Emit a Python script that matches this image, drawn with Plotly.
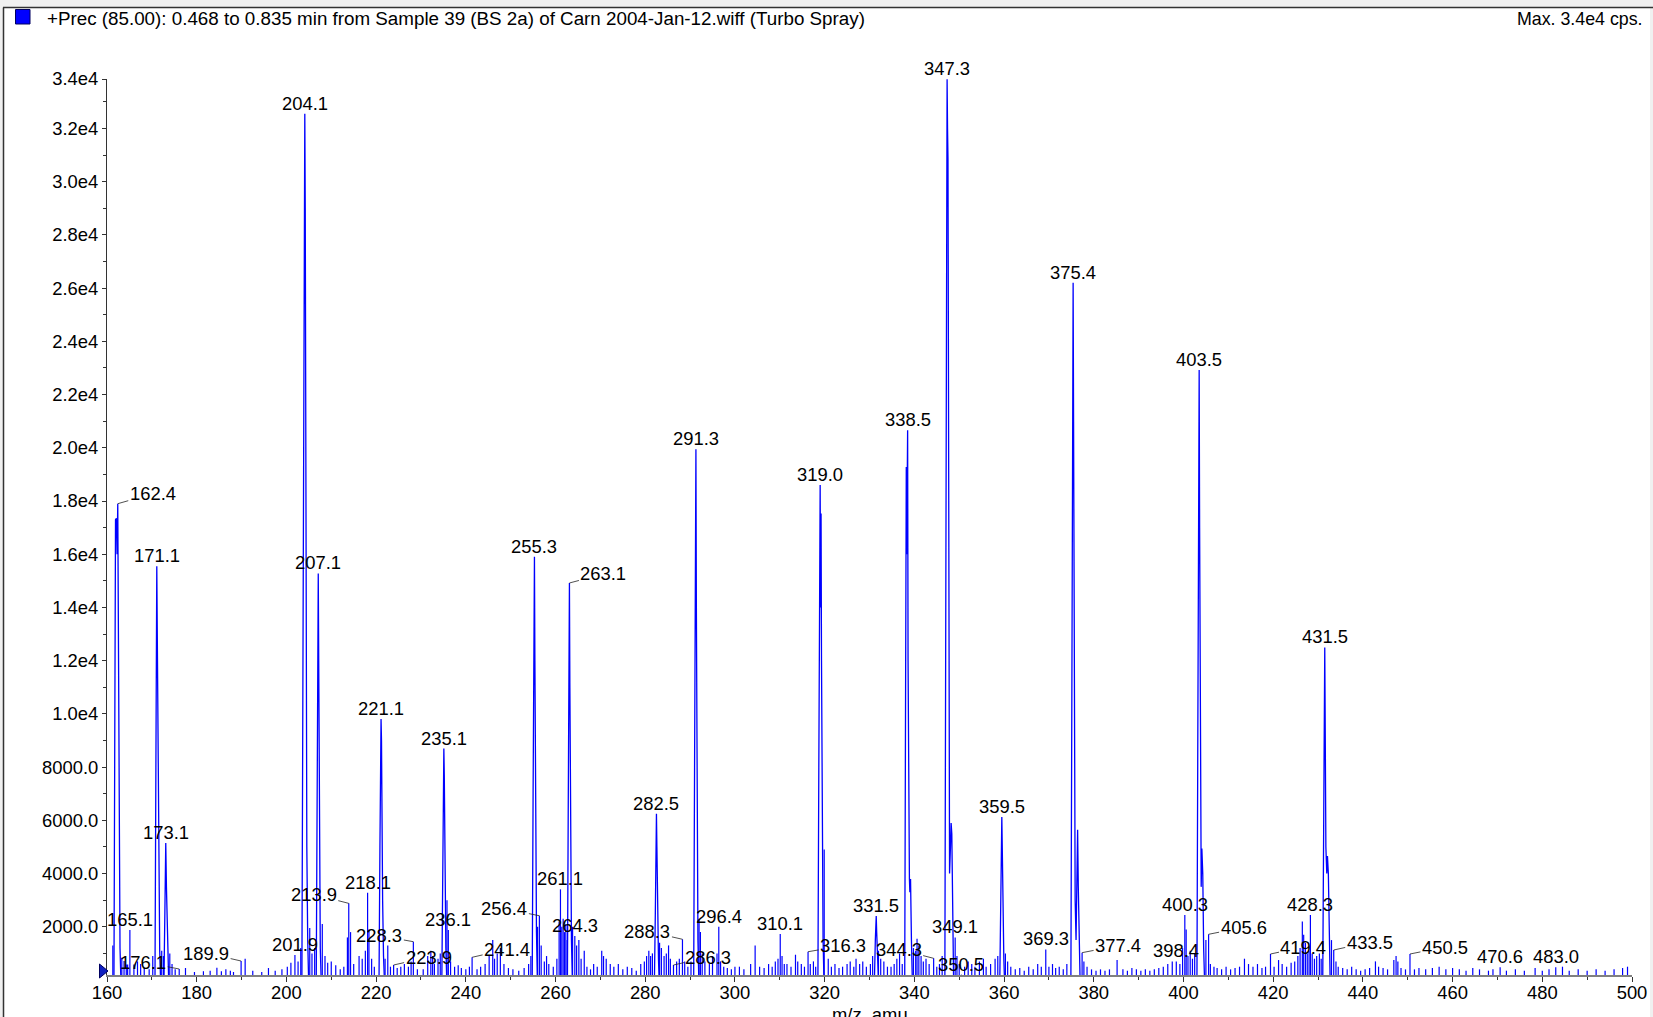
import plotly.graph_objects as go

# ---------------- data ----------------
# profile of the main peaks: m/z and intensity (cps)
profile_mz = [
    161.55, 161.75, 161.9, 162.1, 162.25, 162.4, 162.55, 162.7, 162.9, 163.1,
    170.7, 170.9, 171.0, 171.1, 171.25, 171.4, 171.55, 171.75, 171.95,
    172.7, 172.9, 173.0, 173.1, 173.25, 173.4, 173.55, 173.75,
    203.45, 203.65, 203.85, 204.0, 204.1, 204.2, 204.35, 204.55, 204.75, 204.95,
    206.65, 206.85, 207.0, 207.1, 207.2, 207.35, 207.55, 207.75,
    220.65, 220.85, 221.0, 221.1, 221.2, 221.3, 221.45, 221.65, 221.85,
    234.65, 234.85, 235.0, 235.1, 235.2, 235.35, 235.55, 235.75,
    254.8, 255.0, 255.15, 255.3, 255.4, 255.55, 255.75, 255.95,
    262.65, 262.85, 263.0, 263.1, 263.2, 263.35, 263.55, 263.75,
    282.05, 282.25, 282.4, 282.5, 282.6, 282.75, 282.95, 283.1,
    290.8, 291.0, 291.2, 291.3, 291.4, 291.55, 291.75, 291.95,
    318.5, 318.7, 318.9, 319.0, 319.1, 319.2, 319.3, 319.45, 319.65, 319.85,
    331.1, 331.3, 331.4, 331.5, 331.6, 331.8, 332.0,
    337.85, 338.05, 338.2, 338.3, 338.4, 338.5, 338.6, 338.75, 338.9, 339.0, 339.15, 339.35, 339.55,
    346.8, 347.0, 347.2, 347.3, 347.4, 347.5, 347.65, 347.85, 348.05, 348.2, 348.35, 348.55, 348.75,
    359.05, 359.25, 359.4, 359.5, 359.6, 359.75, 359.95, 360.1,
    374.9, 375.1, 375.3, 375.4, 375.5, 375.65, 375.85, 376.05, 376.25, 376.4, 376.55, 376.75, 376.95,
    403.0, 403.2, 403.4, 403.5, 403.6, 403.75, 403.95, 404.1, 404.3, 404.5, 404.7,
    431.05, 431.25, 431.4, 431.5, 431.6, 431.75, 431.95, 432.1, 432.3, 432.5, 432.7,
]
profile_int = [
    0, 9000, 17300, 17350, 16000, 17900, 12000, 4000, 1200, 0,
    0, 8000, 13500, 15550, 12100, 9000, 4000, 1100, 0,
    0, 2500, 4000, 5150, 3500, 2100, 800, 0,
    0, 10000, 27000, 30000, 32550, 29000, 18000, 5000, 1500, 0,
    0, 8000, 13000, 15280, 12000, 5000, 1200, 0,
    0, 5000, 8500, 9810, 9000, 6000, 3000, 900, 0,
    0, 4500, 7600, 8700, 7700, 4000, 1200, 0,
    0, 7000, 13060, 15910, 12000, 6000, 1800, 0,
    0, 7000, 12500, 14920, 11000, 5000, 1500, 0,
    0, 2500, 5000, 6250, 5000, 2500, 800, 0,
    0, 8000, 16000, 19950, 14000, 5000, 1500, 0,
    0, 8000, 16000, 18600, 14000, 17530, 12000, 5000, 1500, 0,
    0, 1500, 2200, 2400, 1800, 700, 0,
    0, 10000, 19280, 16000, 18500, 20660, 12000, 4500, 3800, 3300, 3800, 1500, 0,
    0, 12000, 28000, 33850, 32000, 30880, 12000, 4000, 5000, 5900, 5500, 1800, 0,
    0, 2500, 5000, 6130, 5000, 2500, 800, 0,
    0, 10000, 23000, 26200, 21000, 10000, 3000, 1500, 4500, 5650, 3500, 1000, 0,
    0, 8000, 19000, 22920, 17000, 7000, 3500, 4940, 4000, 1200, 0,
    0, 5000, 10500, 12500, 9500, 5000, 4000, 4660, 4000, 1500, 0,
]

# small (noise / minor) sticks: m/z and intensity (cps)
stick_mz = [
    161.3, 163.3, 163.8, 164.3, 164.6, 165.1, 166.0, 166.8, 167.5, 168.3, 169.4, 170.2,
    172.2, 172.6, 174.0, 174.5, 175.2, 176.1, 177.5, 179.5, 181.5, 183.0, 184.5, 185.5,
    186.5, 187.5, 188.2, 189.9, 190.8, 192.5, 194.5, 196.0, 197.5, 199.0, 200.2, 201.0,
    201.9, 202.6, 203.2, 205.2, 205.7, 206.3, 208.0, 208.6, 209.2, 210.0, 211.0, 212.0,
    212.8, 213.6, 213.9, 214.3, 215.0, 216.2, 216.9, 217.6, 218.1, 218.4, 219.0, 219.6,
    222.0, 222.6, 223.2, 223.9, 224.7, 225.5, 226.3, 227.2, 227.8, 228.3, 229.2, 230.5,
    231.5, 232.2, 232.6, 233.0, 233.8, 234.3, 235.8, 236.1, 236.6, 237.5, 238.3, 239.0,
    240.0, 240.8, 241.4, 242.5, 243.3, 244.3, 245.2, 246.0, 246.4, 247.0, 247.7, 248.5,
    249.5, 250.5, 251.8, 253.0, 254.0, 254.5, 256.0, 256.4, 256.8, 257.5, 258.0, 258.5,
    259.5, 260.3, 260.8, 261.1, 261.4, 261.7, 262.0, 262.3, 262.6, 263.8, 264.3, 264.7,
    265.2, 265.7, 266.4, 267.0, 267.8, 268.5, 269.3, 270.3, 270.7, 271.3, 272.2, 273.0,
    274.0, 275.0, 276.0, 277.0, 278.0, 279.0, 279.8, 280.3, 280.8, 281.2, 281.6, 283.2,
    283.6, 284.2, 284.7, 285.2, 285.6, 286.3, 287.0, 287.6, 288.3, 288.8, 289.5, 290.2,
    292.0, 292.3, 292.7, 293.3, 294.3, 295.0, 296.0, 296.4, 296.8, 297.5, 298.3, 299.2,
    300.0, 301.0, 302.0, 303.5, 304.5, 305.5, 306.5, 307.5, 308.3, 309.0, 309.6, 310.1,
    310.5, 311.0, 311.6, 312.5, 313.5, 314.0, 314.8, 315.5, 316.3, 316.8, 317.5, 318.0,
    319.9, 320.8, 321.5, 322.3, 323.2, 324.0, 325.0, 325.7, 326.5, 327.0, 327.8, 328.5,
    329.3, 330.2, 330.7, 332.0, 332.5, 333.2, 334.0, 334.8, 335.5, 336.1, 336.7, 337.3,
    339.8, 340.3, 340.6, 341.0, 341.5, 342.0, 342.6, 343.3, 344.3, 345.0, 345.6, 346.2,
    349.1, 349.5, 350.0, 350.5, 351.2, 352.0, 352.8, 353.5, 354.5, 355.4, 356.0, 357.0,
    358.0, 358.6, 360.3, 360.8, 361.5, 362.5, 363.5, 364.5, 365.5, 366.5, 367.5, 368.3,
    369.3, 370.0, 370.8, 371.5, 372.3, 373.2, 374.0, 377.4, 377.8, 378.5, 379.5, 380.5,
    381.5, 382.5, 383.5, 385.2, 386.5, 387.5, 388.5, 389.5, 390.5, 391.5, 392.5, 393.5,
    394.5, 395.5, 396.5, 397.5, 398.4, 399.2, 399.8, 400.3, 400.6, 401.0, 401.5, 402.0,
    402.5, 405.0, 405.6, 406.0, 406.8, 407.5, 408.5, 409.5, 410.5, 411.5, 412.5, 413.6,
    414.5, 415.5, 416.5, 417.5, 418.3, 419.4, 420.2, 421.2, 422.0, 423.0, 424.0, 424.8,
    425.5, 426.0, 426.5, 426.8, 427.2, 427.6, 428.0, 428.3, 428.7, 429.2, 429.7, 430.3,
    430.7, 433.0, 433.5, 434.0, 434.5, 435.5, 436.5, 437.5, 438.5, 439.5, 440.5, 441.5,
    442.8, 443.5, 444.5, 445.5, 446.9, 447.4, 447.8, 448.5, 449.5, 450.5, 451.5, 452.5,
    454.0, 455.5, 457.0, 458.5, 460.0, 461.5, 463.0, 464.5, 466.0, 468.0, 469.0, 470.6,
    472.0, 474.0, 476.0, 478.4, 480.0, 481.5, 483.0, 484.5, 486.0, 488.0, 490.0, 492.0,
    494.0, 496.0, 497.9, 499.0,
]
stick_int = [
    1300, 835, 710, 580, 580, 1880, 580, 700, 600, 450, 400, 900,
    1100, 900, 1000, 600, 400, 413, 450, 300, 330, 350, 460, 330,
    400, 350, 300, 714, 800, 350, 300, 450, 350, 400, 500, 650,
    940, 700, 1200, 1950, 1000, 1200, 2100, 900, 650, 700, 550, 400,
    500, 1600, 2880, 1800, 600, 900, 800, 1100, 3280, 1900, 800, 500,
    800, 1300, 500, 563, 450, 500, 600, 500, 700, 1440, 400, 400,
    900, 1100, 900, 600, 800, 1000, 3000, 1880, 700, 500, 550, 450,
    400, 500, 853, 400, 500, 600, 900, 1500, 800, 1000, 1200, 600,
    450, 400, 350, 450, 600, 900, 2000, 2415, 1300, 700, 900, 600,
    500, 800, 2200, 3407, 2000, 2300, 1800, 2100, 1500, 2000, 1650, 1300,
    1500, 800, 1100, 500, 400, 600, 500, 1100, 900, 800, 600, 500,
    600, 400, 500, 450, 350, 600, 700, 900, 1100, 900, 1000, 1400,
    1200, 900, 1000, 1300, 800, 563, 700, 800, 1530, 700, 500, 700,
    2300, 1800, 1000, 700, 600, 900, 1000, 2000, 700, 500, 450, 400,
    500, 500, 400, 600, 1300, 500, 450, 600, 500, 700, 800, 1730,
    900, 600, 600, 500, 950, 700, 600, 500, 1063, 600, 700, 500,
    4900, 800, 500, 600, 450, 500, 600, 700, 500, 800, 600, 700,
    500, 600, 900, 1100, 800, 700, 500, 500, 600, 800, 1000, 600,
    1200, 1100, 1550, 1300, 900, 700, 800, 600, 815, 500, 600, 900,
    1600, 900, 600, 200, 500, 700, 600, 500, 700, 800, 500, 600,
    800, 900, 1000, 700, 500, 400, 450, 350, 500, 400, 600, 500,
    1150, 500, 600, 450, 500, 400, 600, 1027, 700, 500, 400, 350,
    400, 350, 400, 750, 400, 350, 450, 400, 350, 400, 350, 400,
    450, 500, 600, 700, 700, 600, 1200, 2440, 1900, 900, 1100, 800,
    1000, 1500, 1717, 600, 500, 450, 400, 500, 400, 450, 500, 800,
    600, 500, 600, 450, 500, 977, 500, 750, 600, 500, 650, 700,
    900, 1200, 2200, 1700, 1400, 1000, 1100, 2440, 1000, 800, 900, 1000,
    800, 1500, 1127, 700, 500, 450, 400, 500, 400, 350, 400, 450,
    700, 500, 450, 400, 750, 900, 700, 450, 400, 977, 400, 450,
    400, 450, 500, 400, 450, 400, 350, 450, 400, 350, 400, 480,
    350, 400, 350, 450, 350, 400, 480, 500, 350, 400, 350, 400,
    350, 400, 450, 500,
]

# labelled peaks (m/z labels as printed)
peak_labels = [
    "162.4", "165.1", "171.1", "173.1", "176.1", "189.9", "201.9", "204.1", "207.1",
    "213.9", "218.1", "221.1", "223.9", "228.3", "235.1", "236.1", "241.4", "255.3",
    "256.4", "261.1", "263.1", "264.3", "282.5", "286.3", "288.3", "291.3", "296.4",
    "310.1", "316.3", "319.0", "331.5", "338.5", "344.3", "347.3", "349.1", "350.5",
    "359.5", "369.3", "375.4", "377.4", "398.4", "400.3", "403.5", "405.6", "419.4",
    "428.3", "431.5", "433.5", "450.5", "470.6", "483.0",
]

x_tick_vals = list(range(160, 501, 20))
y_tick_vals = [2000, 4000, 6000, 8000, 10000, 12000, 14000, 16000, 18000, 20000,
               22000, 24000, 26000, 28000, 30000, 32000, 33860]
y_tick_text = ["2000.0", "4000.0", "6000.0", "8000.0", "1.0e4", "1.2e4", "1.4e4",
               "1.6e4", "1.8e4", "2.0e4", "2.2e4", "2.4e4", "2.6e4", "2.8e4",
               "3.0e4", "3.2e4", "3.4e4"]

title_text = ("+Prec (85.00): 0.468 to 0.835 min from Sample 39 (BS 2a) of "
              "Carn 2004-Jan-12.wiff (Turbo Spray)")
max_text = "Max. 3.4e4 cps."
x_title = "m/z, amu"

# ---------------- layout / style ----------------
W, H = 1653, 1017
ML, MR, MT, MB = 107, 21, 79, 42
PW, PH = W - ML - MR, H - MT - MB
FONT = "Arial, Liberation Sans, sans-serif"
FS = 18.4
FS_TITLE = 18.8
FS_MAX = 17.8
BLUE = "#0000FF"

# leader-line label offsets (pixels, text centre relative to peak top)
leader_offsets = {
    "162.4": (35, -10), "263.1": (34, -9), "213.9": (-35, -9), "228.3": (-34, -6),
    "223.9": (35, -8), "241.4": (35, -8), "256.4": (-35, -7), "288.3": (-35, -8),
    "286.3": (35, -8), "176.1": (-36, -7), "189.9": (-35, -8), "316.3": (35, -6),
    "344.3": (-35, -9), "377.4": (36, -7), "405.6": (35, -7), "419.4": (33, -7),
    "433.5": (36, -8), "450.5": (35, -7),
}


def px(x):
    return (x - ML) / PW


def py(y):
    return (H - MB - y) / PH


fig = go.Figure()

fig.add_trace(go.Scatter(
    x=profile_mz, y=profile_int, mode="lines",
    line=dict(color=BLUE, width=1.3), hoverinfo="skip", showlegend=False))

sx, sy = [], []
for m, h in zip(stick_mz, stick_int):
    sx += [m, m, None]
    sy += [0, h, None]
fig.add_trace(go.Scatter(
    x=sx, y=sy, mode="lines",
    line=dict(color=BLUE, width=1.2), hoverinfo="skip", showlegend=False))


def peak_height(mz):
    best = 0
    for xs, ys in ((profile_mz, profile_int), (stick_mz, stick_int)):
        for a, b in zip(xs, ys):
            if abs(a - mz) <= 0.25 and b > best:
                best = b
    return best


annotations = []
for lab in peak_labels:
    m = float(lab)
    h = peak_height(m)
    if lab in leader_offsets:
        ax, ay = leader_offsets[lab]
        annotations.append(dict(
            x=m, y=h, xref="x", yref="y", text=lab, showarrow=True,
            arrowhead=0, arrowwidth=0.8, arrowcolor="#222222",
            ax=ax, ay=ay, standoff=0, startstandoff=0,
            font=dict(family=FONT, size=FS, color="black")))
    else:
        annotations.append(dict(
            x=m, y=h, xref="x", yref="y", text=lab, showarrow=False,
            xanchor="center", yanchor="bottom", yshift=-2,
            font=dict(family=FONT, size=FS, color="black")))

annotations += [
    dict(x=px(45), y=py(19), xref="paper", yref="paper", text=title_text,
         showarrow=False, xanchor="left", yanchor="middle",
         font=dict(family=FONT, size=FS_TITLE, color="black")),
    dict(x=px(1645), y=py(19), xref="paper", yref="paper", text=max_text,
         showarrow=False, xanchor="right", yanchor="middle",
         font=dict(family=FONT, size=FS_MAX, color="black")),
    dict(x=px(870), y=py(1002), xref="paper", yref="paper", text=x_title,
         showarrow=False, xanchor="center", yanchor="top",
         font=dict(family=FONT, size=FS, color="black")),
]

shapes = [
    # grey band at top and frame
    dict(type="rect", xref="paper", yref="paper", x0=px(0), x1=px(W), y0=py(7), y1=py(0),
         fillcolor="#f0f0f0", line=dict(width=0), layer="below"),
    dict(type="rect", xref="paper", yref="paper", x0=px(0), x1=px(3), y0=py(H), y1=py(7),
         fillcolor="#f0f0f0", line=dict(width=0), layer="below"),
    dict(type="rect", xref="paper", yref="paper", x0=px(1650), x1=px(W), y0=py(H), y1=py(7),
         fillcolor="#f0f0f0", line=dict(width=0), layer="below"),
    dict(type="line", xref="paper", yref="paper", x0=px(3), x1=px(W), y0=py(7.5), y1=py(7.5),
         line=dict(color="#333333", width=1.5)),
    dict(type="line", xref="paper", yref="paper", x0=px(3.5), x1=px(3.5), y0=py(7.5), y1=py(H),
         line=dict(color="#333333", width=1.5)),
    # legend square
    dict(type="rect", xref="paper", yref="paper", x0=px(15.5), x1=px(30), y0=py(24), y1=py(9.5),
         fillcolor=BLUE, line=dict(color="#000060", width=1)),
    # baseline marker triangle
    dict(type="path", xref="paper", yref="paper",
         path=f"M {px(99.5)} {py(964)} L {px(99.5)} {py(978)} L {px(108)} {py(971)} Z",
         fillcolor="#1020C0", line=dict(color="#000060", width=1)),
]

fig.update_layout(
    width=W, height=H, autosize=False,
    margin=dict(l=ML, r=MR, t=MT, b=MB, pad=0, autoexpand=False),
    paper_bgcolor="white", plot_bgcolor="white",
    showlegend=False,
    annotations=annotations, shapes=shapes,
    font=dict(family=FONT, size=FS, color="black"),
    xaxis=dict(
        range=[160, 500], tickmode="array", tickvals=x_tick_vals,
        ticks="outside", ticklen=5, tickwidth=1, tickcolor="#333333",
        ticklabelstandoff=-5,
        showline=True, linecolor="#808080", linewidth=2,
        showgrid=False, zeroline=False, automargin=False,
        tickfont=dict(family=FONT, size=FS, color="black"),
        minor=dict(tickmode="linear", tick0=170, dtick=20, ticks="outside",
                   ticklen=3, tickcolor="#333333", showgrid=False),
    ),
    yaxis=dict(
        range=[188, 33860], tickmode="array", tickvals=y_tick_vals, ticktext=y_tick_text,
        ticks="outside", ticklen=4, tickwidth=1, tickcolor="#333333",
        showline=True, linecolor="#333333", linewidth=1,
        showgrid=False, zeroline=False, automargin=False,
        tickfont=dict(family=FONT, size=FS, color="black"),
        minor=dict(tickmode="linear", tick0=1000, dtick=2000, ticks="outside",
                   ticklen=3, tickcolor="#333333", showgrid=False),
    ),
)

fig.write_html("out.html", config={"displayModeBar": False})
